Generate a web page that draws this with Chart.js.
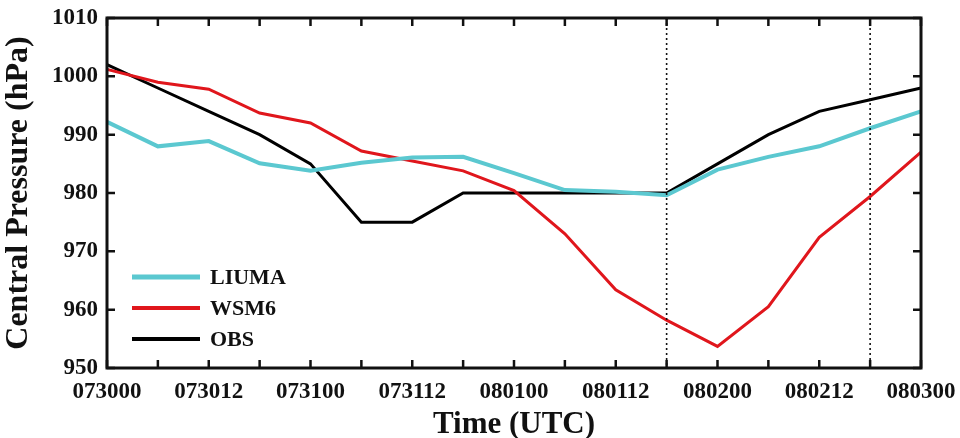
<!DOCTYPE html>
<html>
<head>
<meta charset="utf-8">
<script src="https://cdn.jsdelivr.net/npm/chart.js@4/dist/chart.umd.min.js"></script>
<style>
html, body { margin: 0; padding: 0; background: #fff; }
</style>
</head>
<body>
<canvas id="pressureChart" width="960" height="438"></canvas>
<script>
// 6-hourly times (MMDDHH), labels shown every 12 h
const times = ['073000', '073006', '073012', '073018', '073100', '073106', '073112', '073118',
               '080100', '080106', '080112', '080118', '080200', '080206', '080212', '080218', '080300'];
const liuma = [992.2, 988.0, 988.9, 985.1, 983.8, 985.2, 986.1, 986.2, 983.4, 980.5, 980.2, 979.6, 984.0, 986.2, 988.0, 991.1, 994.0];
const wsm6  = [1001.2, 999.0, 997.8, 993.7, 992.0, 987.2, 985.5, 983.8, 980.4, 973.0, 963.4, 958.2, 953.7, 960.5, 972.4, 979.4, 987.0];
const obs   = [1002, 998, 994, 990, 985, 975, 975, 980, 980, 980, 980, 980, 985, 990, 994, 996, 998];
const markedTimes = ['080118', '080218'];
const yMin = 950, yMax = 1010, yStep = 10;

const serif = '"Liberation Serif", "Times New Roman", serif';

// frame, inward ticks, dotted markers and legend
const framePlugin = {
    id: 'frame',
    afterDatasetsDraw(chart) {
        const ctx = chart.ctx;
        const a = chart.chartArea;
        const x = chart.scales.x, y = chart.scales.y;
        ctx.save();

        // dotted vertical markers
        ctx.strokeStyle = '#111';
        ctx.lineWidth = 1.6;
        ctx.setLineDash([2, 3]);
        markedTimes.forEach(function(t) {
            const px = x.getPixelForValue(times.indexOf(t));
            ctx.beginPath();
            ctx.moveTo(px, a.top);
            ctx.lineTo(px, a.bottom);
            ctx.stroke();
        });
        ctx.setLineDash([]);

        // inward tick marks on all four sides
        ctx.lineWidth = 2.5;
        const len = 8;
        times.forEach(function(t, i) {
            const px = x.getPixelForValue(i);
            ctx.beginPath();
            ctx.moveTo(px, a.bottom); ctx.lineTo(px, a.bottom - len);
            ctx.moveTo(px, a.top); ctx.lineTo(px, a.top + len);
            ctx.stroke();
        });
        for (let v = yMin; v <= yMax; v += yStep) {
            const py = y.getPixelForValue(v);
            ctx.beginPath();
            ctx.moveTo(a.left, py); ctx.lineTo(a.left + len, py);
            ctx.moveTo(a.right, py); ctx.lineTo(a.right - len, py);
            ctx.stroke();
        }

        // box
        ctx.lineWidth = 3;
        ctx.strokeRect(a.left, a.top, a.right - a.left, a.bottom - a.top);

        // legend in lower left corner
        ctx.font = 'bold 22px ' + serif;
        ctx.textBaseline = 'middle';
        ctx.fillStyle = '#111';
        chart.data.datasets.forEach(function(ds, i) {
            const ly = a.bottom - 91 + i * 31;
            ctx.strokeStyle = ds.borderColor;
            ctx.lineWidth = ds.borderWidth + 1;
            ctx.beginPath();
            ctx.moveTo(a.left + 25, ly);
            ctx.lineTo(a.left + 93, ly);
            ctx.stroke();
            ctx.fillText(ds.label, a.left + 103, ly + 1);
        });
        ctx.restore();
    }
};

new Chart(document.getElementById('pressureChart'), {
    type: 'line',
    data: {
        labels: times,
        datasets: [
            { label: 'LIUMA', data: liuma, borderColor: '#5bc8d0', borderWidth: 4, pointRadius: 0, tension: 0 },
            { label: 'WSM6', data: wsm6, borderColor: '#e0161c', borderWidth: 3, pointRadius: 0, tension: 0 },
            { label: 'OBS', data: obs, borderColor: '#000000', borderWidth: 3, pointRadius: 0, tension: 0 }
        ]
    },
    options: {
        responsive: false,
        animation: false,
        devicePixelRatio: 1,
        layout: { padding: { top: 18, right: 39, left: 0, bottom: 0 } },
        plugins: { legend: { display: false }, tooltip: { enabled: false } },
        scales: {
            x: {
                offset: false,
                grid: { display: false, drawTicks: false },
                border: { display: false },
                ticks: {
                    autoSkip: false,
                    maxRotation: 0,
                    padding: 10,
                    color: '#111',
                    font: { family: serif, size: 23, weight: 'bold' },
                    callback: function(v, i) { return i % 2 === 0 ? times[i] : ''; }
                },
                title: {
                    display: true,
                    text: 'Time (UTC)',
                    color: '#111',
                    padding: { top: 0, bottom: -6 },
                    font: { family: serif, size: 31, weight: 'bold' }
                },
                afterFit: function(scale) {
                    scale.height = 70;
                    scale.paddingLeft = 0;
                    scale.paddingRight = 0;
                }
            },
            y: {
                min: yMin,
                max: yMax,
                grid: { display: false, drawTicks: false },
                border: { display: false },
                ticks: {
                    stepSize: yStep,
                    padding: 9,
                    color: '#111',
                    font: { family: serif, size: 23, weight: 'bold' },
                    callback: function(v) { return String(v); }
                },
                title: {
                    display: true,
                    text: 'Central Pressure (hPa)',
                    color: '#111',
                    padding: { top: 0, bottom: 0 },
                    font: { family: serif, size: 32, weight: 'bold' }
                },
                afterFit: function(scale) {
                    scale.width = 107;
                    scale.paddingTop = 0;
                    scale.paddingBottom = 0;
                }
            }
        }
    },
    plugins: [framePlugin]
});
</script>
</body>
</html>
